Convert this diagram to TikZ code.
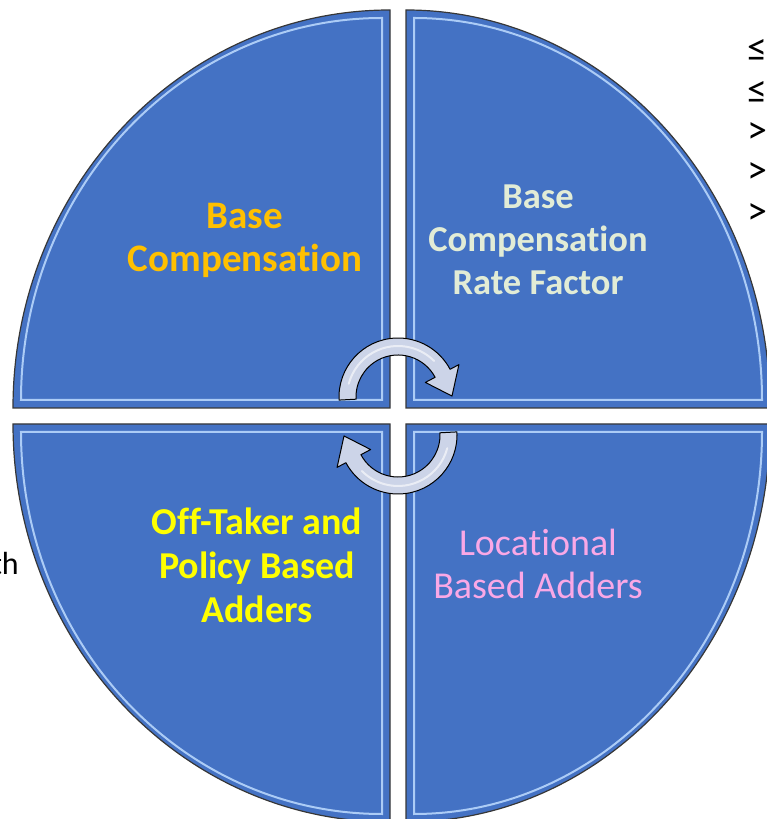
\documentclass[tikz,border=0pt]{standalone}
\usepackage{fontspec}
\setmainfont{Carlito}[Ligatures=NoCommon]

\definecolor{quadblue}{RGB}{68,114,196}
\definecolor{bevel}{RGB}{172,204,246}
\definecolor{rimline}{RGB}{55,55,55}
\definecolor{arrowfill}{RGB}{204,212,232}
\definecolor{txtorange}{RGB}{255,192,0}
\definecolor{txtpale}{RGB}{226,236,214}
\definecolor{txtyellow}{RGB}{255,255,0}
\definecolor{txtpink}{RGB}{250,168,230}

\tikzset{
  quad/.style={fill=quadblue, draw=rimline, line width=1.2pt},
  quadbevel/.style={draw=bevel, line width=2pt},
  cyclearrow/.style={fill=arrowfill, draw=black, line width=1pt, line join=round},
  quadtext/.style={align=center, inner sep=0pt},
  sidetext/.style={inner sep=0pt, text=black}
}

% one quarter of the disc, corner at #1, mirrored by #2/#3, x radius #4
\newcommand{\quarterpie}[4]{%
  \begin{scope}[shift={#1}, xscale=#2, yscale=#3]
    \draw[quad] (0,0) -- (-#4,0) arc[start angle=180, end angle=90, x radius=#4, y radius=398] -- cycle;
    \draw[quadbevel] (-8,8) -- (-#4+8,8) arc[start angle=180, end angle=90, x radius=#4-16, y radius=382] -- cycle;
  \end{scope}}

% curved arrow round the middle
\newcommand{\turnarrow}[2]{%
  \begin{scope}[shift={#1}, rotate=#2]
    \draw[cyclearrow] (183:59) arc[start angle=183, end angle=28, radius=59]
      -- (28:69) -- (1:54) -- (28:31) -- (28:42)
      arc[start angle=28, end angle=183, radius=42] -- cycle;
    \draw[white, opacity=.6, line width=2pt, line cap=round] (165:51) arc[start angle=165, end angle=45, radius=51];
  \end{scope}}

\begin{document}
\begin{tikzpicture}[x=1pt, y=1pt]
  \useasboundingbox (0,0) rectangle (767,819);
  \clip (0,0) rectangle (767,819);

  % the four quarters
  \quarterpie{(390,411)}{1}{1}{377}
  \quarterpie{(406,411)}{-1}{1}{364}
  \quarterpie{(390,395)}{1}{-1}{377}
  \quarterpie{(406,395)}{-1}{-1}{364}

  % arrows in the middle
  \turnarrow{(398,422)}{0}
  \turnarrow{(398,384)}{180}

  % labels
  \node[quadtext, text=txtorange, font=\bfseries\fontsize{39}{43}\selectfont] (basecomp) at (245,579) {Base\\Compensation};
  \node[quadtext, text=txtpale, font=\bfseries\fontsize{36.5}{43}\selectfont] (ratefactor) at (538,579) {Base\\Compensation\\Rate Factor};
  \node[quadtext, text=txtyellow, font=\bfseries\fontsize{38}{44}\selectfont] (offtaker) at (257,254) {Off-Taker and\\Policy Based\\Adders};
  \node[quadtext, text=txtpink, font=\fontsize{38}{43}\selectfont] (locational) at (538,255) {Locational\\Based Adders};

  % text cut off at the sides
  \foreach \sym/\yy [count=\i] in {≤/50, ≤/92, >/133, >/173, >/214}
    \node[sidetext, anchor=west, font=\fontsize{40}{40}\selectfont] (bullet\i) at (747,819-\yy) {\sym};
  \node[sidetext, anchor=base east, font=\fontsize{32}{36}\selectfont] (cutword) at (19,244) {th};
\end{tikzpicture}
\end{document}
